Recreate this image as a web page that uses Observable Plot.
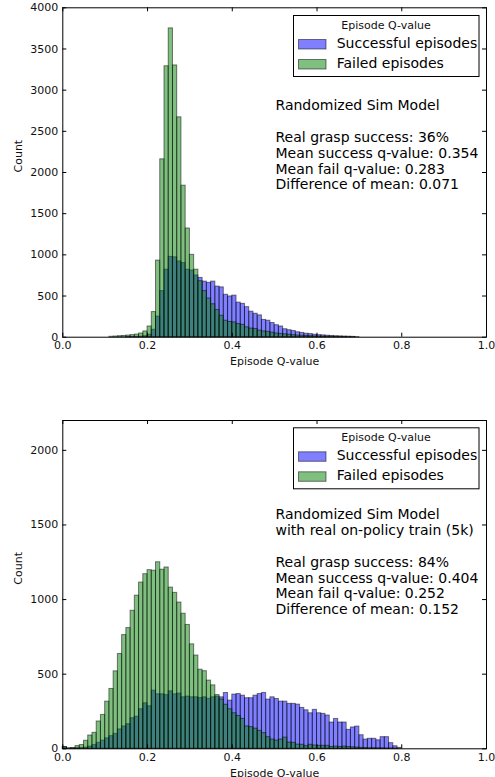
<!DOCTYPE html>
<html>
<head>
<meta charset="utf-8">
<script src="https://cdn.jsdelivr.net/npm/d3@7"></script>
<script src="https://cdn.jsdelivr.net/npm/@observablehq/plot@0.6"></script>
<style>
  html, body { margin: 0; padding: 0; background: #fff; }
  #wrap { position: relative; width: 495px; height: 777px; overflow: hidden; font-family: "DejaVu Sans", sans-serif; }
  #wrap > .panel { position: absolute; left: 0; }
  #wrap > svg.overlay { position: absolute; left: 0; top: 0; }
</style>
</head>
<body>
<div id="wrap"></div>
<script>
// ---------- data ----------
const BIN_WIDTH = 0.01; // bins of 0.01 from 0.00 to 1.00 (100 bins)
const xTicks = [0, 0.2, 0.4, 0.6, 0.8, 1.0];
const yTicksTop = [0, 500, 1000, 1500, 2000, 2500, 3000, 3500, 4000];
const yTicksBottom = [0, 500, 1000, 1500, 2000];
const seriesNames = ["Successful episodes", "Failed episodes"];
const legendTitle = "Episode Q-value";
const xLabel = "Episode Q-value";
const yLabel = "Count";

// Panel 1: Randomized Sim Model
const topSuccess = [
  0,0,0,0,0,0,0,0,0,0,
  0,0,0,0,0,2,3,4,6,12,
  30,90,250,560,820,975,970,920,900,820,
  810,750,720,675,660,675,615,605,515,495,
  505,420,405,365,310,285,265,210,200,172,
  146,130,97,85,75,60,52,42,38,30,
  25,22,18,15,12,10,8,6,4,2,
  0,0,0,0,0,0,0,0,0,0,
  0,0,0,0,0,0,0,0,0,0,
  0,0,0,0,0,0,0,0,0,0
];
const topFailed = [
  0,0,0,0,0,0,0,0,0,0,
  0,5,8,12,15,20,25,32,45,70,
  130,305,930,2160,3290,3750,3300,2670,1840,1320,
  1000,820,680,560,470,400,330,260,200,185,
  180,160,150,120,105,100,80,70,65,55,
  45,40,35,30,25,20,18,15,12,10,
  8,6,5,4,3,2,2,1,1,0,
  0,0,0,0,0,0,0,0,0,0,
  0,0,0,0,0,0,0,0,0,0,
  0,0,0,0,0,0,0,0,0,0
];
// Panel 2: Randomized Sim Model with real on-policy train (5k)
const bottomSuccess = [
  12,2,3,4,5,8,15,25,40,55,
  70,85,100,130,150,165,205,215,265,305,
  285,390,365,365,360,385,365,370,345,350,
  345,345,340,345,335,345,350,345,374,323,
  363,367,356,339,339,356,367,374,330,345,
  334,316,316,301,301,296,274,258,238,261,
  238,234,223,176,200,176,176,127,143,149,
  91,62,67,67,57,78,78,38,17,6,
  0,0,0,0,0,0,0,0,0,0,
  0,0,0,0,0,0,0,0,0,0
];
const bottomFailed = [
  10,3,5,18,25,54,89,107,183,227,
  316,401,519,635,762,809,925,1026,1114,1170,
  1197,1193,1250,1200,1215,1080,1045,980,905,830,
  700,625,530,520,457,425,360,330,295,265,
  238,220,200,150,145,135,120,105,78,62,
  55,62,75,42,40,28,27,18,27,22,
  20,20,20,12,15,12,15,12,10,8,
  6,5,4,4,3,3,2,2,1,0,
  0,0,0,0,0,0,0,0,0,0,
  0,0,0,0,0,0,0,0,0,0
];
const topNote = "Randomized Sim Model\n\nReal grasp success: 36%\nMean success q-value: 0.354\nMean fail q-value: 0.283\nDifference of mean: 0.071";
const bottomNote = "Randomized Sim Model\nwith real on-policy train (5k)\n\nReal grasp success: 84%\nMean success q-value: 0.404\nMean fail q-value: 0.252\nDifference of mean: 0.152";

// ---------- drawing ----------
const toBins = arr => arr.map((c, i) => ({x1: i * BIN_WIDTH, x2: (i + 1) * BIN_WIDTH, c})).filter(d => d.c > 0);

const W = 495, ML = 62.3, MR = 9;
const SUCCESS_COLOR = "blue", FAILED_COLOR = "green";

function panel({success, failed, yMax, yTicks, note, noteDy, height, marginTop, marginBottom}) {
  const frameW = W - ML - MR;
  const frameH = height - marginTop - marginBottom;
  const tk = 4;
  return Plot.plot({
    width: W, height,
    marginLeft: ML, marginRight: MR, marginTop, marginBottom,
    x: {domain: [0, 1]},
    y: {domain: [0, yMax]},
    style: {fontFamily: "DejaVu Sans", fontSize: "11px", color: "#000", background: "transparent", overflow: "visible"},
    marks: [
      Plot.rectY(toBins(success), {x1: "x1", x2: "x2", y: "c", fill: SUCCESS_COLOR, fillOpacity: 0.5, stroke: "black", strokeOpacity: 0.5, strokeWidth: 1}),
      Plot.rectY(toBins(failed), {x1: "x1", x2: "x2", y: "c", fill: FAILED_COLOR, fillOpacity: 0.5, stroke: "black", strokeOpacity: 0.5, strokeWidth: 1}),
      Plot.frame({stroke: "black", strokeWidth: 1}),
      Plot.tickX(xTicks, {x: d => d, insetTop: frameH - tk, stroke: "black"}),
      Plot.tickX(xTicks, {x: d => d, insetBottom: frameH - tk, stroke: "black"}),
      Plot.tickY(yTicks, {y: d => d, insetRight: frameW - tk, stroke: "black"}),
      Plot.tickY(yTicks, {y: d => d, insetLeft: frameW - tk, stroke: "black"}),
      Plot.axisX(xTicks, {tickSize: 0, tickPadding: 4, tickFormat: d => d.toFixed(1), label: null, fill: "#111"}),
      Plot.axisY(yTicks, {tickSize: 0, tickPadding: 4.6, tickFormat: d => String(d), label: null, fill: "#111"}),
      Plot.text([xLabel], {frameAnchor: "bottom", dy: 27.8, lineAnchor: "bottom", fontSize: 11, fill: "#111"}),
      Plot.text([yLabel], {frameAnchor: "left", dx: -44, rotate: -90, fontSize: 11, fill: "#111"}),
      Plot.text([note], {frameAnchor: "top-left", dx: 212.7, dy: noteDy, lineAnchor: "top", textAnchor: "start", fontSize: 14, lineHeight: 1.13, fill: "#000"})
    ]
  });
}

const wrap = document.getElementById("wrap");

const p1 = panel({success: topSuccess, failed: topFailed, yMax: 4000, yTicks: yTicksTop, note: topNote, noteDy: 91.2, height: 385, marginTop: 7.3, marginBottom: 48.3});
p1.classList.add("panel");
p1.style.top = "0px";
wrap.appendChild(p1);

const p2 = panel({success: bottomSuccess, failed: bottomFailed, yMax: 2200, yTicks: yTicksBottom, note: bottomNote, noteDy: 87.5, height: 392, marginTop: 35, marginBottom: 28.7});
p2.classList.add("panel");
p2.style.top = "385px";
wrap.appendChild(p2);

// legends (one per panel)
const overlay = d3.select(wrap).append("svg").attr("class", "overlay").attr("width", W).attr("height", 777)
  .attr("font-family", "DejaVu Sans");
function legend(top) {
  const g = overlay.append("g").attr("transform", `translate(0,${top})`);
  g.append("rect").attr("x", 293.5).attr("y", 0.5).attr("width", 185.5).attr("height", 61).attr("fill", "white").attr("stroke", "black").attr("stroke-width", 1);
  g.append("text").attr("x", 386).attr("y", 13.7).attr("text-anchor", "middle").attr("font-size", 11).attr("fill", "#111").text(legendTitle);
  const colors = [SUCCESS_COLOR, FAILED_COLOR];
  seriesNames.forEach((name, i) => {
    g.append("rect").attr("x", 298.5).attr("y", 24.5 + i * 20).attr("width", 27.5).attr("height", 9.5)
      .attr("fill", colors[i]).attr("fill-opacity", 0.5).attr("stroke", "black").attr("stroke-opacity", 0.5);
    g.append("text").attr("x", 336.7).attr("y", 32.5 + i * 20).attr("font-size", 14).attr("fill", "#000").text(name);
  });
}
legend(15);
legend(427.3);
</script>
</body>
</html>
